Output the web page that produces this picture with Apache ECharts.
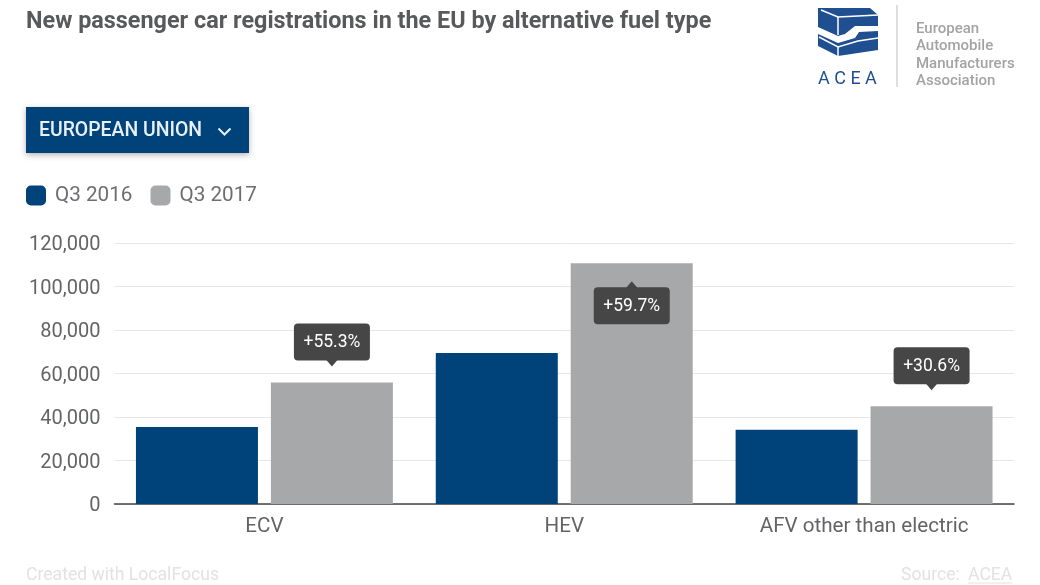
<!DOCTYPE html>
<html>
<head>
<meta charset="utf-8">
<title>New passenger car registrations</title>
<script src="https://cdn.jsdelivr.net/npm/echarts@6/dist/echarts.min.js"></script>
<style>
html,body{margin:0;padding:0;background:#fff;}
#chart{width:1040px;height:585px;}
</style>
</head>
<body>
<div id="chart"></div>
<script>
var categories = ['ECV', 'HEV', 'AFV other than electric'];
var q3_2016 = [35400, 69400, 34100];
var q3_2017 = [55900, 110700, 45000];
var changes = ['+55.3%', '+59.7%', '+30.6%'];
var insideBar = [false, true, false]; // HEV callout sits inside the bar

var FONT = 'Roboto';
var myChart = echarts.init(document.getElementById('chart'), null, {renderer: 'canvas'});

// callout box with little arrow, anchored on top of the grey bar
function renderCallout(params, api) {
    var idx = api.value(0);
    var p = api.coord([idx, api.value(1)]);
    var x = p[0] + 67.5;   // centre of second bar
    var boxW = 76, boxH = 37, arrow = 6;
    var inside = insideBar[idx];
    var boxY, tri;
    if (inside) {
        boxY = p[1] + 24;
        tri = [[x - 6, boxY + 1], [x, boxY - arrow], [x + 6, boxY + 1]];
    } else {
        boxY = p[1] - 22 - boxH;
        tri = [[x - 6, boxY + boxH - 1], [x, boxY + boxH + arrow], [x + 6, boxY + boxH - 1]];
    }
    return {
        type: 'group',
        children: [
            {type: 'polygon', shape: {points: tri}, style: {fill: '#464646'}},
            {type: 'rect', shape: {x: x - boxW / 2, y: boxY, width: boxW, height: boxH, r: 4}, style: {fill: '#464646'}},
            {type: 'text', style: {x: x, y: boxY + boxH / 2 + 1, text: changes[idx], fill: '#fff',
                font: '400 17.5px ' + FONT, align: 'center', verticalAlign: 'middle'}}
        ]
    };
}

var option = {
    backgroundColor: '#fff',
    animation: false,
    title: {
        text: 'New passenger car registrations in the EU by alternative fuel type',
        left: 21, top: 6,
        textStyle: {fontFamily: FONT, fontSize: 23.4, fontWeight: 700, color: '#58595b'}
    },
    legend: {
        left: 21, top: 180,
        itemWidth: 20, itemHeight: 20, itemGap: 18,
        icon: 'roundRect',
        selectedMode: false,
        textStyle: {fontFamily: FONT, fontSize: 20.7, color: '#6d6e71', padding: [0, 0, 0, 4]},
        data: ['Q3 2016', 'Q3 2017']
    },
    grid: {left: 114.5, right: 26, top: 243, bottom: 81},
    xAxis: {
        type: 'category',
        data: categories,
        axisTick: {show: false},
        axisLine: {lineStyle: {color: '#444', width: 1.5}},
        axisLabel: {fontFamily: FONT, fontSize: 20.6, color: '#636466', margin: 12}
    },
    yAxis: {
        type: 'value',
        min: 0, max: 120000, interval: 20000,
        axisLine: {show: false},
        axisTick: {show: false},
        splitLine: {lineStyle: {color: '#e6e6e6', width: 1}},
        axisLabel: {
            margin: 14,
            formatter: function (v) { return '{t|' + v.toLocaleString('en-US') + '}'; },
            rich: {t: {fontFamily: FONT, fontSize: 20, color: '#636466', padding: [4, 0, 0, 0]}}
        }
    },
    series: [
        {name: 'Q3 2016', type: 'bar', data: q3_2016, barWidth: 122, barGap: '10.6%',
            itemStyle: {color: '#00437b'}},
        {name: 'Q3 2017', type: 'bar', data: q3_2017, barWidth: 122,
            itemStyle: {color: '#a7a8aa'}},
        {type: 'custom', renderItem: renderCallout, silent: true, z: 5,
            encode: {x: 0, y: 1},
            data: q3_2017.map(function (v, i) { return [i, v]; })}
    ],
    graphic: [
        // dropdown
        {type: 'rect', left: 26, top: 107, shape: {width: 223, height: 46},
            style: {fill: '#00437b', shadowBlur: 6, shadowColor: 'rgba(0,0,0,0.3)', shadowOffsetY: 2}},
        {type: 'text', left: 39, top: 122,
            style: {text: 'EUROPEAN UNION', fill: '#e8f1f8', font: '500 19.4px ' + FONT}},
        {type: 'polyline', left: 216, top: 126,
            shape: {points: [[0, 0], [6, 6], [12, 0]]},
            style: {stroke: '#e8f1f8', lineWidth: 2, fill: 'none'}},
        // ACEA logo
        {type: 'polygon', shape: {points: [[818, 8], [870, 8], [878, 15], [878, 26], [855, 26], [845, 34], [838, 36], [818, 27]]},
            style: {fill: '#1f4e91'}},
        {type: 'polyline', shape: {points: [[821, 10], [838, 17], [878, 15]]},
            style: {stroke: '#fff', lineWidth: 1.5, fill: 'none'}},
        {type: 'line', shape: {x1: 838, y1: 17, x2: 838, y2: 35},
            style: {stroke: '#fff', lineWidth: 1.5}},
        {type: 'polygon', shape: {points: [[859, 32], [878, 31], [878, 50], [838, 56], [818, 46], [818, 34], [838, 43], [855, 38]]},
            style: {fill: '#1f4e91'}},
        {type: 'polyline', shape: {points: [[819, 37], [838, 47], [858, 41], [878, 38]]},
            style: {stroke: '#fff', lineWidth: 1.5, fill: 'none'}},
        {type: 'line', shape: {x1: 838, y1: 47, x2: 838, y2: 56},
            style: {stroke: '#fff', lineWidth: 1.5}},
        {type: 'text', left: 818, top: 70,
            style: {text: 'A C E A', fill: '#1f4e91', font: '400 18px ' + FONT}},
        {type: 'line', shape: {x1: 897, y1: 5, x2: 897, y2: 87},
            style: {stroke: '#d4d4d4', lineWidth: 1.5}},
        {type: 'text', left: 916, top: 20,
            style: {text: 'European\nAutomobile\nManufacturers\nAssociation', fill: '#a3a3a3',
                font: '500 15px ' + FONT, lineHeight: 17.5}},
        // footer
        {type: 'text', left: 26, top: 567,
            style: {text: 'Created with LocalFocus', fill: '#e2e2e2', font: '400 17.6px ' + FONT}},
        {type: 'text', left: 901, top: 567,
            style: {text: 'Source:', fill: '#e2e2e2', font: '400 17.6px ' + FONT}},
        {type: 'text', left: 968, top: 567,
            style: {text: 'ACEA', fill: '#e2e2e2', font: '400 17.6px ' + FONT}},
        {type: 'line', shape: {x1: 968, y1: 583, x2: 1012, y2: 583},
            style: {stroke: '#e2e2e2', lineWidth: 1}}
    ]
};
myChart.setOption(option);

window.addEventListener('resize', function () {
    myChart.resize();
});
</script>
</body>
</html>
